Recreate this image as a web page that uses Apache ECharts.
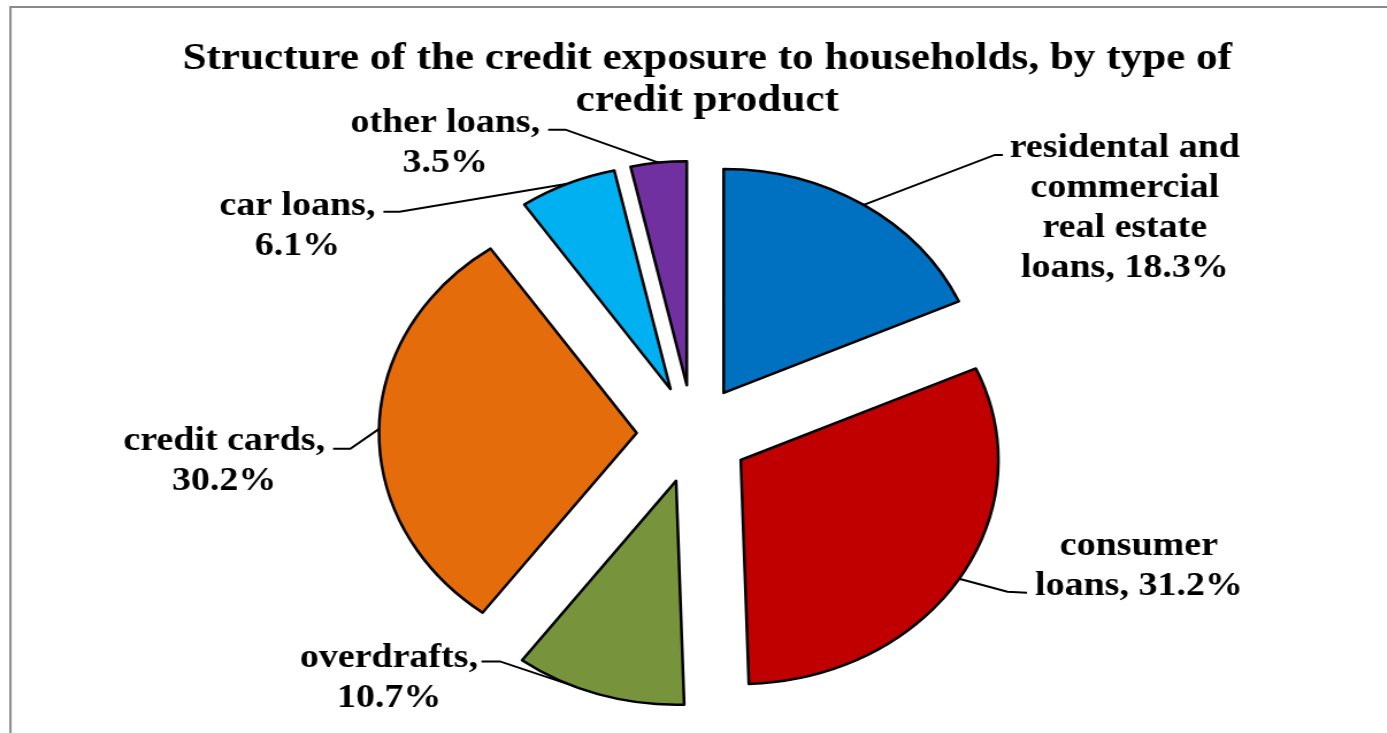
<!DOCTYPE html>
<html>
<head>
<meta charset="utf-8">
<script src="https://cdn.jsdelivr.net/npm/echarts@6/dist/echarts.min.js"></script>
<style>
  html, body { margin: 0; padding: 0; background: #fff; overflow: hidden; }
  #chart {
    width: 1206px; height: 733px;
    transform: scaleX(1.15); transform-origin: 0 0;
  }
</style>
</head>
<body>
<div id="chart"></div>
<script>
// Credit exposure to households by product type (shares, %)
const categories = [
  'residental and\ncommercial\nreal estate\nloans',
  'consumer\nloans',
  'overdrafts',
  'credit cards',
  'car loans',
  'other loans'
];
const shares = [18.3, 31.2, 10.7, 30.2, 6.1, 3.5];
const colors = ['#0070C0', '#C00000', '#77933C', '#E46C0A', '#00B0F0', '#7030A0'];
const titleText = 'Structure of the credit exposure to households, by type of\ncredit product';

const CENTER = [602.6, 434];
const RADIUS = 224;
const EXPLODE = 49;
const FONT = '"Liberation Serif", "Times New Roman", serif';
const LINE_H = 40;

// Label placement per slice, relative to the arc midpoint of the exploded slice:
// bend / tail of the leader line, and the near corner (x, top) of the text block.
const leaderLayout = [
  { bend: [114, -50], tail: [121, -50], text: [127, -76] },
  { bend: [42, 13],   tail: [59, 14],   text: [66, -52] },
  { bend: [-86, -33], tail: [-102, -33], text: [-105, -56] },
  { bend: [-25, 20],  tail: [-40, 20],  text: [-47, -7] },
  { bend: [-146, 28], tail: [-160, 28], text: [-167, 3] },
  { bend: [-81, -33], tail: [-96, -33], text: [-103, -59] }
];

function labelLines(name, value) {
  const sep = name.indexOf('\n') >= 0 ? ' ' : '\n';
  return (name + ',' + sep + value.toFixed(1) + '%').split('\n');
}

// The pie centres each label block vertically on its anchor; padding moves the
// block so that its top sits at the requested offset.
function labelOptions(i) {
  const g = leaderLayout[i];
  const h = labelLines(categories[i], shares[i]).length * LINE_H;
  const shift = g.text[1] + h / 2;
  return {
    label: { padding: shift >= 0 ? [2 * shift, 0, 0, 0] : [0, 0, -2 * shift, 0] },
    labelLine: { length: 0, length2: Math.abs(g.text[0]) - 5 }
  };
}

const chart = echarts.init(document.getElementById('chart'));
chart.setOption({
  animation: false,
  backgroundColor: '#fff',
  title: {
    text: titleText,
    left: 610,
    top: 33,
    textAlign: 'center',
    textStyle: {
      fontFamily: FONT, fontWeight: 'bold', fontSize: 37.5, lineHeight: 42, color: '#000'
    }
  },
  graphic: [{
    type: 'rect',
    shape: { x: 9.1, y: 7, width: 1300, height: 900 },
    style: { fill: null, stroke: '#8a8a8a', lineWidth: 2 },
    silent: true
  }],
  series: [{
    type: 'pie',
    center: CENTER,
    radius: RADIUS,
    startAngle: 90,
    clockwise: true,
    selectedMode: 'multiple',
    selectedOffset: EXPLODE,
    silent: true,
    avoidLabelOverlap: false,
    emphasis: { disabled: true },
    itemStyle: { borderColor: '#000', borderWidth: 2.5 },
    label: {
      show: true,
      position: 'outside',
      distanceToLabelLine: 5,
      formatter: function (p) {
        return labelLines(p.name, p.value).map(function (l) { return '{c|' + l + '}'; }).join('\n');
      },
      rich: {
        c: {
          align: 'center', fontFamily: FONT, fontWeight: 'bold',
          fontSize: 33, lineHeight: LINE_H, color: '#000'
        }
      }
    },
    labelLine: { show: true, lineStyle: { color: '#000', width: 2 } },
    // Leader lines: a straight run from the arc midpoint, then a short horizontal tail.
    labelLayout: function (p) {
      const g = leaderLayout[p.dataIndex];
      const a = p.labelLinePoints && p.labelLinePoints[0];
      if (!g || !a) return {};
      return {
        labelLinePoints: [
          [a[0], a[1]],
          [a[0] + g.bend[0], a[1] + g.bend[1]],
          [a[0] + g.tail[0], a[1] + g.tail[1]]
        ]
      };
    },
    data: categories.map(function (name, i) {
      return Object.assign({
        name: name, value: shares[i], selected: true, itemStyle: { color: colors[i] }
      }, labelOptions(i));
    })
  }]
});
</script>
</body>
</html>
